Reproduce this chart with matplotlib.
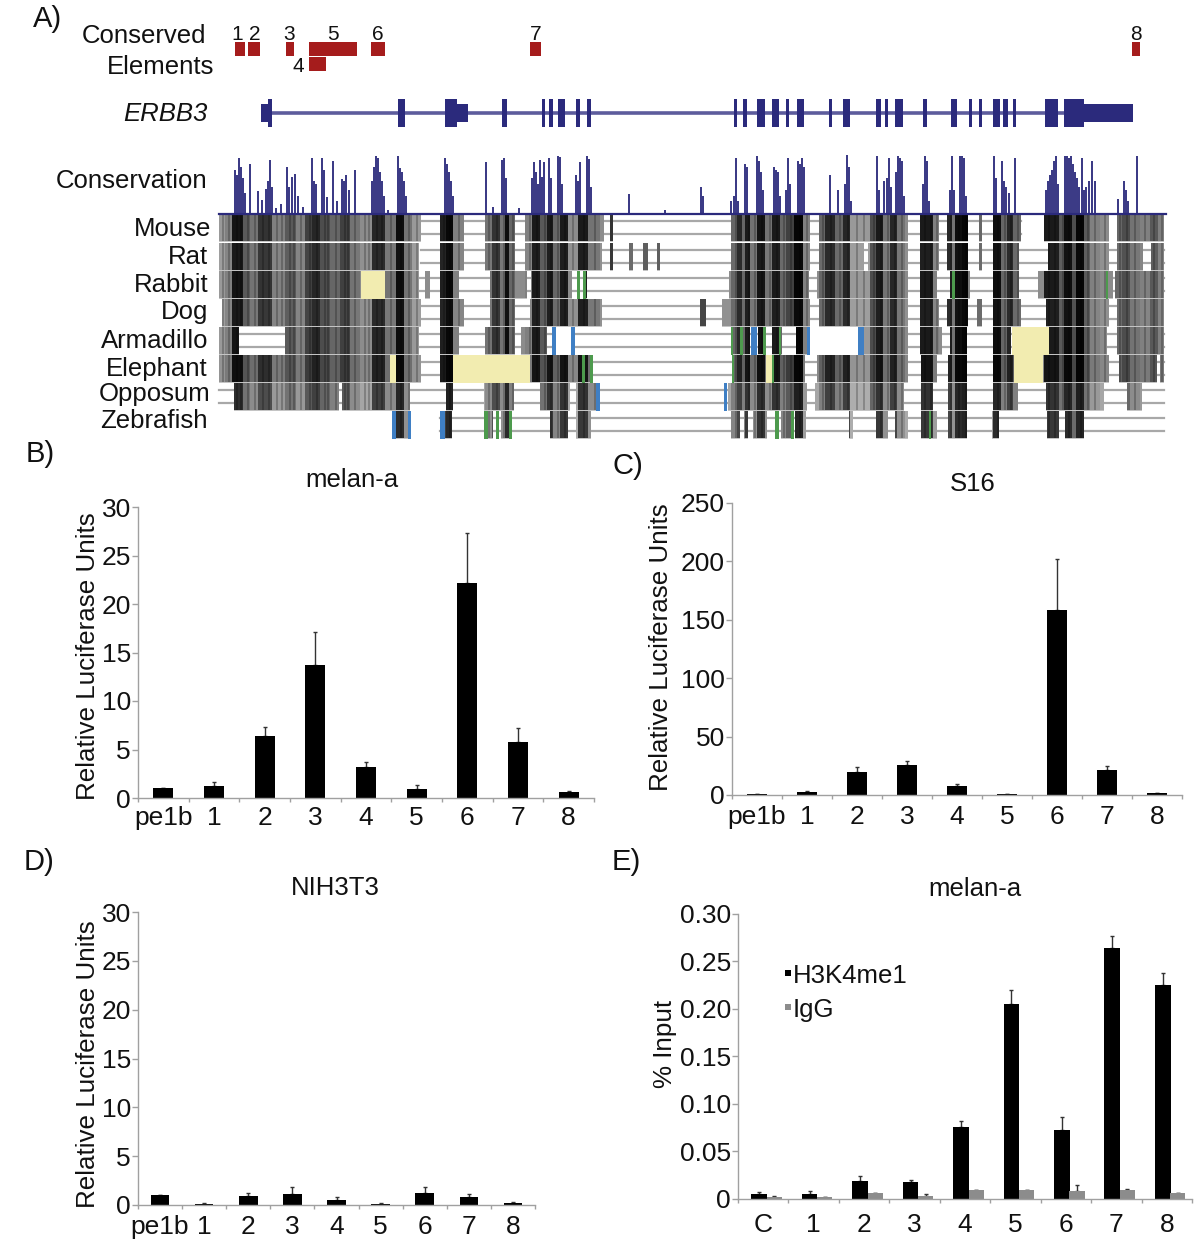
import matplotlib
matplotlib.use("Agg")
import matplotlib.pyplot as plt
from matplotlib.patches import Rectangle

plt.rcParams['font.family'] = ['Liberation Sans', 'DejaVu Sans']

W, H = 1200, 1247
NAVY = '#2b2a7c'
RED = '#a51c1c'
YELLOW = '#f2ecb0'
BLUE = '#3f7fc4'
GREEN = '#4d9a4d'

# ---------- panel A data ----------
element_boxes = [(235, 245), (248, 260), (286, 294), (309, 357), (371, 385), (530, 541), (1132, 1140)]
element4_box = (309, 326)
element_labels = [('1', 237), ('2', 255), ('3', 289), ('5', 333), ('6', 378), ('7', 536), ('8', 1136)]

exons_tall = [(268, 272), (398, 405), (445, 457), (502, 507), (542, 545), (549, 553), (558, 565), (576, 580),
              (587, 591), (734, 737), (743, 747), (757, 765), (772, 779), (786, 789), (797, 804), (829, 832),
              (843, 850), (876, 881), (885, 888), (895, 903), (923, 927), (951, 957), (969, 972), (979, 982),
              (993, 1000), (1003, 1008), (1013, 1016), (1045, 1058), (1064, 1084)]
exons_mid = [(261, 271), (457, 468), (1084, 1133)]

cons_x = [235, 237, 239, 241, 243, 245, 250, 258, 262, 266, 268, 270, 272, 276, 281, 287, 289, 292, 295, 298, 303,
          312, 314, 316, 322, 324, 327, 333, 337, 342, 344, 346, 349, 355, 372, 374, 376, 378, 380, 382, 384, 388,
          398, 400, 402, 404, 406, 445, 447, 449, 451, 453, 486, 493, 502, 504, 506, 519, 532, 534, 536, 538, 540,
          542, 544, 549, 551, 558, 560, 562, 576, 578, 580, 587, 589, 591,
          629, 665, 701, 703, 731, 734, 736, 738, 745, 747, 757, 759, 761, 763, 774, 776, 778, 780,
          786, 788, 790, 798, 800, 802, 804, 830, 838, 845, 847, 849, 851,
          877, 879, 884, 887, 889, 891, 896, 898, 900, 902, 904,
          923, 925, 927, 929, 950, 952, 954, 960, 962, 964, 966,
          994, 996, 1002, 1004, 1006, 1009, 1015,
          1046, 1048, 1050, 1052, 1054, 1056, 1058, 1065, 1067, 1069, 1071, 1073, 1075, 1077, 1079, 1082, 1084, 1086,
          1089, 1092, 1095, 1118, 1124, 1126, 1128, 1137]
cons_h = [.75, .65, .95, .8, .6, .35, .85, .38, .22, .42, .55, .92, .45, .08, .16, .8, .45, .62, .68, .3, .1,
          .95, .55, .5, .95, .75, .28, .9, .2, .58, .55, .65, .4, .75, .55, .8, .98, .95, .7, .55, .3, .06,
          .98, .78, .7, .55, .3, .95, .85, .7, .55, .3, .88, .1, .92, .95, .6, .08, .6, .88, .7, .5, .92,
          .62, .88, .95, .6, .98, .97, .5, .65, .55, .88, .98, .93, .45,
          .33, .05, .45, .3, .2, .3, .95, .2, .85, .8, .98, .9, .7, .4, .8, .75, .7, .3,
          .4, .95, .5, .9, .85, .95, .8, .65, .4, .5, 1.0, .8, .2,
          .98, .4, .55, .6, .95, .45, .7, .98, .95, .9, .3,
          .5, .98, .9, .2, .4, .98, .4, .98, .98, .95, .3,
          .98, .6, .9, .55, .45, .35, .95,
          .4, .55, .65, .75, .9, .98, .5, .98, .98, .95, .98, .85, .7, .6, .45, .95, .4, .45,
          .55, .9, .55, .25, .55, .4, .2, .98]

species = ['Mouse', 'Rat', 'Rabbit', 'Dog', 'Armadillo', 'Elephant', 'Opposum', 'Zebrafish']
species_y = [227, 255, 283, 310, 339, 367, 392, 419]
species_right = [211, 208, 208, 208, 208, 208, 211, 208]
row_tops = [214, 243, 271, 299, 327, 355, 383, 411]
row_height = 28
row_lines = [(421, 1021), (421, 1164), (419, 1164), (421, 1117), (239, 1164), (421, 1164), (219, 1164), (440, 1164)]
row_lighten = [0, .02, .0, .02, .0, -.02, .1, .12]

blocks = [
    [(219, 421), (440, 464), (485, 515), (525, 604), (610, 613), (731, 810), (819, 908), (920, 939), (947, 968),
     (979, 982), (993, 1021), (1044, 1109), (1117, 1164)],
    [(219, 419), (440, 464), (485, 515), (525, 602), (610, 613), (629, 633), (643, 648), (657, 660), (731, 810),
     (819, 864), (868, 908), (920, 939), (947, 968), (979, 982), (993, 1019), (1048, 1109), (1117, 1143), (1151, 1164)],
    [(219, 361), (385, 419), (425, 430), (440, 459), (490, 527), (531, 572), (585, 587), (729, 809), (817, 908),
     (920, 937), (950, 970), (993, 1019), (1038, 1113), (1115, 1164)],
    [(222, 421), (440, 464), (490, 515), (530, 602), (700, 706), (722, 810), (819, 908), (920, 939), (947, 968),
     (977, 982), (993, 1021), (1046, 1109), (1117, 1164)],
    [(219, 239), (285, 419), (440, 459), (485, 515), (521, 547), (731, 740), (743, 750), (758, 764), (772, 782),
     (796, 807), (864, 908), (920, 942), (950, 967), (993, 1011), (1049, 1107), (1117, 1164)],
    [(219, 390), (396, 421), (440, 453), (530, 582), (585, 590), (732, 766), (772, 805), (817, 908), (921, 937),
     (948, 967), (993, 1014), (1043, 1109), (1119, 1157), (1160, 1164)],
    [(234, 339), (342, 410), (446, 453), (484, 514), (540, 570), (576, 596), (728, 807), (815, 904), (921, 933),
     (948, 967), (993, 1018), (1046, 1104), (1127, 1142)],
    [(396, 408), (445, 452), (488, 493), (501, 509), (550, 568), (576, 591), (731, 740), (744, 748), (753, 767),
     (781, 791), (795, 806), (849, 853), (876, 888), (895, 908), (921, 937), (948, 967), (992, 999), (1047, 1059),
     (1065, 1084)],
]
yellow_blocks = [(2, 361, 385), (5, 390, 396), (5, 453, 530), (5, 766, 772), (4, 1012, 1049), (5, 1014, 1043)]
white_blocks = [(4, 810, 858), (4, 556, 571)]
blue_marks = [(4, 552, 556), (4, 571, 575), (4, 751, 757), (4, 807, 810), (4, 858, 864), (6, 596, 600), (6, 724, 727),
              (7, 392, 396), (7, 408, 411), (7, 440, 445)]
green_marks = [(2, 577, 580), (2, 583, 586), (2, 952, 955), (2, 1106, 1108), (4, 731, 733), (4, 740, 743), (4, 763, 766),
               (4, 779, 781), (5, 582, 585), (5, 590, 593), (5, 732, 734), (5, 772, 774),
               (7, 484, 488), (7, 496, 499), (7, 509, 512), (7, 775, 779), (7, 791, 794), (7, 929, 931)]

grey_start = [219, 225, 232, 243, 250, 258, 272, 285, 296, 305, 312, 320, 330, 340, 350, 360, 372, 385, 396, 404, 412,
              421, 440, 446, 453, 464, 485, 492, 500, 505, 509, 515, 525, 532, 540, 547, 553, 560, 568, 578, 588, 600,
              610, 625, 640, 655, 700, 706, 722, 731, 737, 742, 745, 750, 757, 765, 772, 780, 786, 794, 803,
              810, 819, 825, 835, 843, 850, 870, 876, 883, 890, 897, 905, 908, 920, 933, 939, 947, 952, 955, 962, 968,
              977, 983, 993, 1001, 1007, 1013, 1021, 1038, 1044, 1059, 1064, 1072, 1076, 1084, 1090, 1100, 1109,
              1115, 1122, 1130, 1140, 1150, 1158]
grey_level = [.6, .5, .08, .35, .45, .2, .5, .35, .5, .25, .15, .3, .4, .25, .45, .55, .15, .45, .05, .45, .6,
              .55, .12, .03, .5, .55, .45, .2, .45, .05, .4, .55, .5, .1, .35, .1, .4, .1, .55, .1, .45, .55,
              .2, .4, .35, .35, .25, .55, .55, .4, .15, .4, .1, .45, .08, .45, .1, .4, .25, .02, .5,
              .55, .4, .15, .4, .15, .6, .3, .1, .45, .15, .45, .55, .55, .1, .5, .55, .15, .45, .05, .02, .5,
              .4, .5, .05, .4, .15, .4, .5, .55, .1, .35, .05, .3, .02, .35, .5, .55, .55,
              .4, .3, .45, .5, .35, .5]
# thin darker stripes that give the alignment blocks their texture
stripe_x = [222, 228, 236, 240, 247, 254, 262, 268, 276, 281, 289, 293, 300, 309, 316, 324, 327, 335, 344, 347, 354,
            364, 368, 376, 381, 390, 400, 408, 416, 443, 449, 458, 488, 496, 503, 512, 529, 536, 544, 550, 557, 564,
            572, 583, 594, 735, 748, 754, 761, 769, 776, 783, 790, 799, 806, 822, 830, 839, 847, 856, 863, 873, 880,
            887, 894, 901, 924, 930, 936, 950, 958, 965, 997, 1004, 1010, 1017, 1048, 1054, 1062, 1068, 1080, 1087,
            1094, 1104, 1119, 1126, 1134, 1144, 1153, 1161]

# ---------- bar panel data ----------
lum_labels = ['pe1b', '1', '2', '3', '4', '5', '6', '7', '8']
melan_vals = [1.0, 1.2, 6.4, 13.7, 3.2, 0.95, 22.2, 5.8, 0.6]
melan_tops = [1.0, 1.6, 7.3, 17.1, 3.7, 1.3, 27.3, 7.2, 0.7]
s16_vals = [1.0, 2.5, 20, 25.5, 8, 0.5, 158, 21.5, 1.5]
s16_tops = [1.2, 3.0, 24, 29, 9.5, 0.7, 202, 25, 1.8]
nih_vals = [1.0, 0.15, 0.95, 1.15, 0.55, 0.15, 1.25, 0.85, 0.25]
nih_tops = [1.0, 0.25, 1.25, 1.8, 0.8, 0.25, 1.8, 1.1, 0.35]
chip_labels = ['C', '1', '2', '3', '4', '5', '6', '7', '8']
h3k_vals = [.005, .005, .019, .018, .076, .205, .073, .264, .225]
h3k_tops = [.007, .008, .024, .020, .082, .220, .086, .276, .237]
igg_vals = [.002, .002, .006, .0035, .009, .009, .008, .009, .006]
igg_tops = [.003, .002, .006, .005, .0095, .0095, .015, .0105, .0065]
lum_ticks = [0, 5, 10, 15, 20, 25, 30]
s16_ticks = [0, 50, 100, 150, 200, 250]
chip_ticks = [0, .05, .10, .15, .20, .25, .30]
chip_ticklabels = ['0', '0.05', '0.10', '0.15', '0.20', '0.25', '0.30']

fig = plt.figure(figsize=(W / 100, H / 100), dpi=100, facecolor='white')
bg = fig.add_axes([0, 0, 1, 1])
bg.set_xlim(0, W)
bg.set_ylim(H, 0)
bg.axis('off')

def label(x, y, s, size=18.5, ha='left', **kw):
    bg.text(x, y, s, fontsize=size, ha=ha, va='center', color='#111111', **kw)

for s, x, y in [('A)', 33, 19), ('B)', 26, 454), ('C)', 612, 466), ('D)', 24, 862), ('E)', 612, 862)]:
    label(x, y, s, size=21)

label(206, 36, 'Conserved', ha='right')
label(214, 67, 'Elements', ha='right')
label(208, 114, 'ERBB3', ha='right', style='italic')
label(207, 181, 'Conservation', ha='right')
for s, y, r in zip(species, species_y, species_right):
    label(r, y + 2, s, ha='right')
for s, x in element_labels:
    label(x, 35, s, size=15, ha='center')
label(298, 67, '4', size=15, ha='center')

for a, b in element_boxes:
    bg.add_patch(Rectangle((a, 42), b - a, 14, fc=RED, ec='none'))
bg.add_patch(Rectangle((element4_box[0], 57), element4_box[1] - element4_box[0], 14, fc=RED, ec='none'))

# gene model
bg.plot([261, 1133], [113, 113], color='#5d5c9c', lw=2.6, solid_capstyle='butt', zorder=1)
for a, b in exons_tall:
    bg.add_patch(Rectangle((a, 99), b - a, 28, fc=NAVY, ec='none', zorder=2))
for a, b in exons_mid:
    bg.add_patch(Rectangle((a, 104), b - a, 18, fc=NAVY, ec='none', zorder=2))

# conservation track
bg.bar(cons_x, [-58 * h for h in cons_h], width=2.8, bottom=213, color=NAVY, lw=0, zorder=2, alpha=.92)
bg.plot([219, 1166], [213.5, 213.5], color=NAVY, lw=1.6, zorder=3)

# alignment rows
edges = grey_start + [1165]
for r, top in enumerate(row_tops):
    a, b = row_lines[r]
    for f in (.27, .73):
        bg.plot([a, b], [top + 27 * f] * 2, color='#a8a8a8', lw=1.6, zorder=1)
    for i, g in enumerate(grey_level):
        s0, s1 = edges[i], edges[i + 1]
        for x0, x1 in blocks[r]:
            lo, hi = max(s0, x0), min(s1, x1)
            if hi > lo:
                v = max(.02, min(.68, g + row_lighten[r]))
                bg.add_patch(Rectangle((lo, top), hi - lo, row_height, fc=(v, v, v), ec='none', zorder=2))
    for x0, x1 in blocks[r]:
        for sx in stripe_x:
            if x0 <= sx < x1 - 1:
                bg.add_patch(Rectangle((sx, top), 1.5, row_height, fc='black', alpha=.22, ec='none', zorder=2.2))
        bg.add_patch(Rectangle((x0, top + 27), x1 - x0, 1, fc='#c4c4c4', ec='none', zorder=2.5))
for r, a, b in white_blocks:
    bg.add_patch(Rectangle((a, row_tops[r]), b - a, row_height, fc='white', ec='none', zorder=2.6))
for r, a, b in yellow_blocks:
    bg.add_patch(Rectangle((a, row_tops[r]), b - a, row_height, fc=YELLOW, ec='none', zorder=3))
for r, a, b in blue_marks:
    bg.add_patch(Rectangle((a, row_tops[r]), b - a, row_height, fc=BLUE, ec='none', zorder=3))
for r, a, b in green_marks:
    bg.add_patch(Rectangle((a, row_tops[r]), b - a, row_height, fc=GREEN, ec='none', zorder=3))

def panel(left, right, top, bottom, ymax, xpad):
    ax = fig.add_axes([left / W, 1 - bottom / H, (right - left) / W, (bottom - top) / H], facecolor='none')
    ax.set_xlim(0, 9)
    ax.set_ylim(0, ymax)
    for s in ('top', 'right'):
        ax.spines[s].set_visible(False)
    for s in ('left', 'bottom'):
        ax.spines[s].set_color('#a0a0a0')
        ax.spines[s].set_linewidth(1)
    ax.tick_params(axis='y', length=4, width=1, color='#a0a0a0', labelsize=19, pad=1, labelcolor='#111111')
    ax.set_xticks([i + .5 for i in range(9)])
    ax.tick_params(axis='x', length=0, labelsize=19, pad=xpad, labelcolor='#111111')
    ax.set_xticks(range(10), minor=True)
    ax.tick_params(axis='x', which='minor', length=3, width=1, color='#a0a0a0')
    return ax

def err(ax, xs, vals, tops, col='#333333'):
    ax.errorbar(xs, vals, yerr=[[0] * 9, [t - v for v, t in zip(vals, tops)]], fmt='none',
                ecolor=col, elinewidth=1, capsize=1.5, capthick=1, zorder=1)

def lum(left, right, top, bottom, ymax, vals, tops, ticks, title, tx, ty, ylab_x, ylab_y, width, xpad):
    ax = panel(left, right, top, bottom, ymax, xpad)
    xs = [i + .5 for i in range(9)]
    ax.bar(xs, vals, width=width, color='black', zorder=2)
    err(ax, xs, vals, tops)
    ax.set_xticklabels(lum_labels)
    ax.set_yticks(ticks)
    label(tx, ty, title, ha='center')
    bg.text(ylab_x, ylab_y, 'Relative Luciferase Units', rotation=90, fontsize=18.7,
            ha='center', va='center', color='#111111')

lum(138, 594, 507, 798, 30, melan_vals, melan_tops, lum_ticks, 'melan-a', 352, 480, 88, 656, .4, 6)
lum(732, 1182, 503, 795, 250, s16_vals, s16_tops, s16_ticks, 'S16', 973, 484, 661, 647, .4, 7)
lum(138, 535, 912, 1205, 30, nih_vals, nih_tops, lum_ticks, 'NIH3T3', 335, 888, 88, 1064, .42, 7)

ax = panel(738, 1192, 913.5, 1199, .30, 10)
xs = [i + .5 for i in range(9)]
bx = [x - .08 for x in xs]
gx = [x + .22 for x in xs]
ax.bar(bx, h3k_vals, width=.31, color='black', zorder=2)
ax.bar(gx, igg_vals, width=.3, color='#8c8c8c', zorder=2)
err(ax, bx, h3k_vals, h3k_tops)
err(ax, gx, igg_vals, igg_tops)
ax.set_xticklabels(chip_labels)
ax.set_yticks(chip_ticks)
ax.set_yticklabels(chip_ticklabels)
label(975, 889, 'melan-a', ha='center')
bg.text(665, 1044, '% Input', rotation=90, fontsize=18.7, ha='center', va='center', color='#111111')
bg.add_patch(Rectangle((785, 970), 6, 6, fc='black', ec='none'))
bg.add_patch(Rectangle((785, 1004), 6, 6, fc='#8c8c8c', ec='none'))
label(793, 976, 'H3K4me1')
label(793, 1010, 'IgG')

fig.savefig('out.png', dpi=100)
